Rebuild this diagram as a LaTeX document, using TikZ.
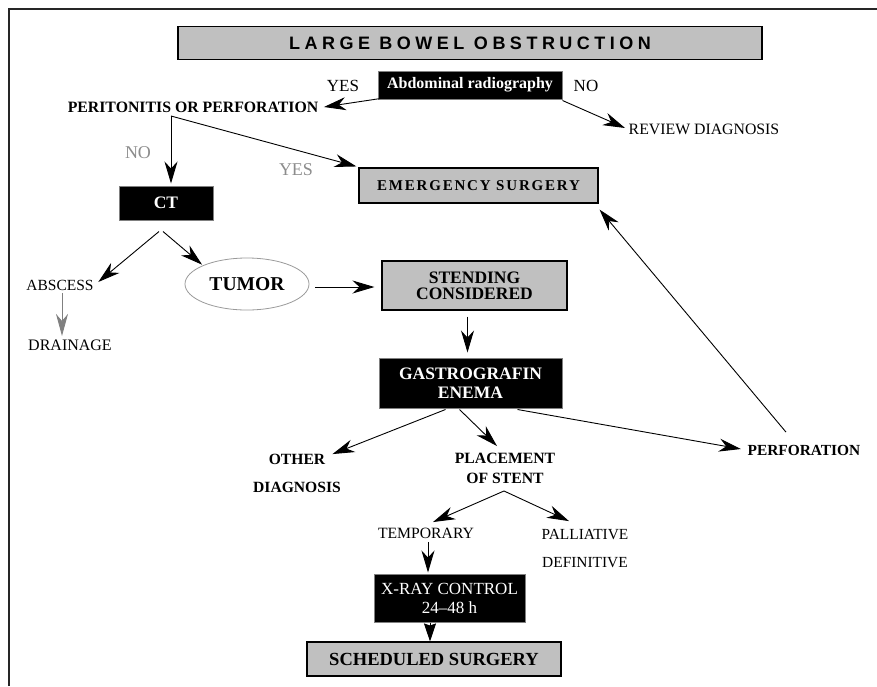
\documentclass[tikz,border=0pt]{standalone}
\usepackage{fontspec}
\setmainfont{Liberation Serif}
\newfontfamily\titlefont[LetterSpace=25]{Liberation Sans}
\newfontfamily\spacedfont[LetterSpace=12]{Liberation Serif}
\usetikzlibrary{arrows.meta,calc,shapes.geometric}
\definecolor{boxgray}{RGB}{192,192,192}
\definecolor{lblgray}{RGB}{140,140,140}
\newcommand{\fsz}[2]{\fontsize{#1}{#2}\selectfont}
\begin{document}
\begin{tikzpicture}[x=1pt,y=-1pt,
  graybox/.style={draw=black,fill=boxgray,line width=1.1pt,inner sep=0pt},
  blackbox/.style={draw=gray,fill=black,text=white,line width=1pt,inner sep=0pt},
  lbl/.style={inner sep=0.5pt,align=center},
  arr/.style={line width=0.9pt,-{Stealth[length=22pt,width=13pt,inset=7pt]}},
  garr/.style={arr,draw=gray,-{Stealth[length=22pt,width=12pt,inset=7pt,fill=gray]}},
  bigarr/.style={line width=0.9pt,-{Stealth[length=18pt,width=12pt,inset=2pt]}},
]
\useasboundingbox (0,0) rectangle (877,686);
% frame
\draw[line width=1.3pt,draw=black!85] (9,686) -- (9,9) -- (877,9);

% nodes
\node[graybox,minimum width=584pt,minimum height=33pt,font=\titlefont\bfseries\fsz{18}{20}] (title) at (470,43) {LARGE BOWEL OBSTRUCTION};
\node[blackbox,minimum width=184pt,minimum height=28pt,font=\bfseries\fsz{16}{18}] (abd) at (470,85) {Abdominal radiography};
\node[lbl,font=\fsz{17}{20}] (yes1) at (343,86) {YES};
\node[lbl,font=\fsz{17}{20}] (no1) at (586,86) {NO};
\node[lbl,font=\bfseries\fsz{15.8}{18}] (perit) at (193,107) {PERITONITIS OR PERFORATION};
\node[lbl,font=\fsz{15.8}{18}] (review) at (704,129) {REVIEW DIAGNOSIS};
\node[graybox,minimum width=239pt,minimum height=35pt,font=\spacedfont\bfseries\fsz{15}{16}] (emerg) at (478.5,185.5) {EMERGENCY SURGERY};
\node[blackbox,minimum width=94pt,minimum height=34pt,font=\bfseries\fsz{17.5}{20}] (ct) at (166,203) {CT};
\node[lbl,text=lblgray,font=\fsz{18}{20}] (nolab) at (138,153) {NO};
\node[lbl,text=lblgray,font=\fsz{18}{20}] (yeslab) at (296,170) {YES};
\node[lbl,font=\fsz{15.5}{18}] (abscess) at (60,285) {ABSCESS};
\node[lbl,font=\fsz{16}{18}] (drain) at (70,345) {DRAINAGE};
\node[ellipse,draw=gray!80,line width=0.8pt,minimum width=124pt,minimum height=52pt,inner sep=0pt,font=\bfseries\fsz{19.6}{22}] (tumor) at (247,284) {TUMOR};
\node[graybox,minimum width=185pt,minimum height=49pt,align=center,font=\bfseries\fsz{17.5}{16}] (stend) at (474.5,285.5) {STENDING\\CONSIDERED};
\node[blackbox,minimum width=183pt,minimum height=50pt,align=center,font=\bfseries\fsz{17.5}{19}] (gastro) at (470.5,383) {GASTROGRAFIN\\ENEMA};
\node[lbl,font=\bfseries\fsz{15.6}{28}] (other) at (297,473) {OTHER\\DIAGNOSIS};
\node[lbl,font=\bfseries\fsz{15.7}{20}] (place) at (505,468) {PLACEMENT\\OF STENT};
\node[lbl,font=\bfseries\fsz{15.4}{18}] (perf) at (804,450) {PERFORATION};
\node[lbl,font=\fsz{15.7}{18}] (temp) at (426,533) {TEMPORARY};
\node[lbl,font=\fsz{15.4}{28}] (pall) at (585,549) {PALLIATIVE\\DEFINITIVE};
\node[blackbox,minimum width=151pt,minimum height=48pt,align=center,font=\fsz{17}{19}] (xray) at (449.5,598) {X-RAY CONTROL\\24–48 h};
\node[graybox,minimum width=254pt,minimum height=34pt,font=\bfseries\fsz{18.5}{20}] (sched) at (434,659) {SCHEDULED SURGERY};

% connectors
\coordinate (pj) at ($(perit.south)+(-22,3)$);
\draw[arr] ($(abd.south west)+(3,-1)$) -- ($(perit.east)+(5,0)$);
\draw[arr] ($(abd.south east)+(0,1)$) -- ($(review.west)+(-3,-1)$);
\draw[arr,shorten >=2pt] (pj) -- (pj |- ct.north);
\draw[arr] (pj) -- ($(emerg.north west)+(-2,-1)$);
\draw[arr] ($(ct.south)+(-7,11)$) -- ($(abscess.east)+(4,-3)$);
\draw[arr,shorten >=1pt] ($(ct.south)+(-3,11)$) -- (tumor.north west);
\draw[arr] ($(tumor.east)+(6,3)$) -- ($(stend.west)+(-7,1.5)$);
\draw[garr] ($(drain.north)+(-8,-46)$) -- ($(drain.north)+(-8,-3)$);
\draw[arr] ($(stend.south)+(-7,6)$) -- ($(gastro.north)+(-3,-5)$);
\draw[arr] ($(gastro.south)+(-25,1)$) -- ($(other.north east)+(-9,1)$);
\draw[arr] ($(gastro.south)+(-11,1)$) -- ($(place.north)+(-8,-6)$);
\draw[arr] ($(gastro.south)+(47,1)$) -- ($(perf.west)+(-6,-1)$);
\draw[arr] ($(perf.north)+(-18,-12)$) -- ($(emerg.south east)+(1,6)$);
\draw[arr] ($(place.south)+(-1,7)$) -- ($(temp.north)+(7,-5)$);
\draw[arr] ($(place.south)+(-1,7)$) -- ($(pall.north)+(-16,-8)$);
\draw[arr] ($(temp.south)+(2,3)$) -- ($(xray.north)+(-21.5,-1)$);
\draw[bigarr] ($(xray.south)+(-19.5,0)$) -- ($(sched.north)+(-4,0)$);
\end{tikzpicture}
\end{document}
